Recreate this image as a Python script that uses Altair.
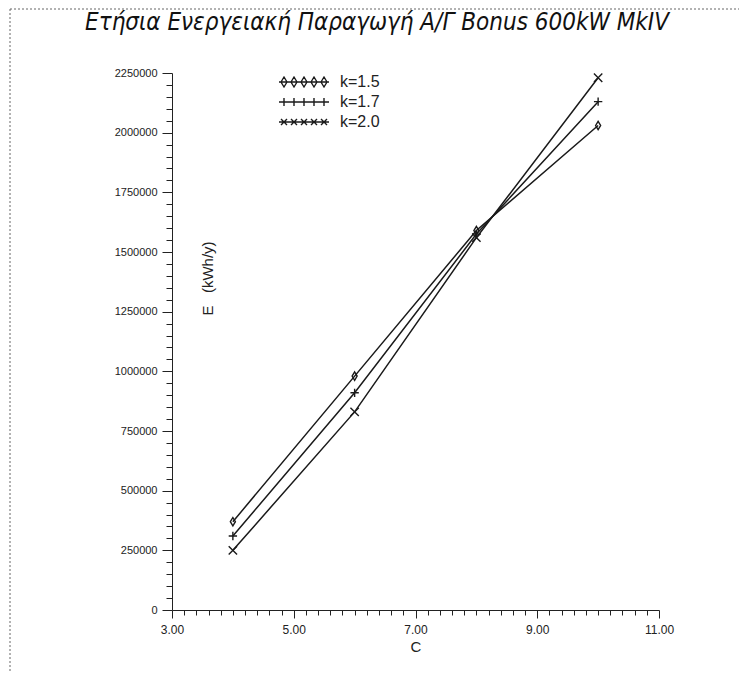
import altair as alt
import pandas as pd

# ---- data ----
C_values = [4, 6, 8, 10]
k_labels = ["k=1.5", "k=1.7", "k=2.0"]
E_k15 = [370000, 980000, 1590000, 2030000]
E_k17 = [310000, 910000, 1575000, 2130000]
E_k20 = [250000, 830000, 1560000, 2230000]

x_tick_values = [3.0, 3.2, 3.4, 3.6, 3.8, 4.0, 4.2, 4.4, 4.6, 4.8,
                 5.0, 5.2, 5.4, 5.6, 5.8, 6.0, 6.2, 6.4, 6.6, 6.8,
                 7.0, 7.2, 7.4, 7.6, 7.8, 8.0, 8.2, 8.4, 8.6, 8.8,
                 9.0, 9.2, 9.4, 9.6, 9.8, 10.0, 10.2, 10.4, 10.6, 10.8, 11.0]
y_tick_values = list(range(0, 2250001, 50000))

title_text = "Ετήσια Ενεργειακή Παραγωγή Α/Γ Bonus 600kW MkIV"

rows = []
for lab, vals in zip(k_labels, [E_k15, E_k17, E_k20]):
    for c, e in zip(C_values, vals):
        rows.append({"C": c, "E": e, "k": lab})
df = pd.DataFrame(rows)

# marker shapes (unit paths)
point_paths = [
    "M-0.6,0L0,-1L0.6,0L0,1Z",
    "M-1,0L1,0M0,-1L0,1",
    "M-1,-1L1,1M-1,1L1,-1",
]

def legend_path(kind):
    p = "M-1,0L1,0"
    for c in [-0.8, -0.4, 0.0, 0.4, 0.8]:
        if kind == 0:
            p += f"M{c-0.12:.2f},0L{c:.2f},-0.2L{c+0.12:.2f},0L{c:.2f},0.2Z"
        elif kind == 1:
            p += f"M{c:.2f},-0.16L{c:.2f},0.16"
        else:
            p += f"M{c-0.12:.2f},-0.12L{c+0.12:.2f},0.12M{c-0.12:.2f},0.12L{c+0.12:.2f},-0.12"
    return p

legend_paths = [legend_path(0), legend_path(1), legend_path(2)]

FONT = "Liberation Sans"

x_enc = alt.X(
    "C:Q",
    scale=alt.Scale(domain=[3, 11], nice=False, zero=False),
    axis=alt.Axis(
        values=x_tick_values,
        labelExpr="(abs(datum.value - round(datum.value)) < 0.01 && round(datum.value) % 2 == 1) ? format(datum.value, '.2f') : ''",
        tickSize={"condition": {"test": "abs(datum.value - round(datum.value)) < 0.01 && round(datum.value) % 2 == 1", "value": 8}, "value": 5},
        title="C",
        titleFontSize=15,
        titleFontWeight="normal",
        titlePadding=4,
        labelFontSize=12,
        labelPadding=6,
        labelFlush=False,
        labelOverlap=False,
    ),
)
y_enc = alt.Y(
    "E:Q",
    scale=alt.Scale(domain=[0, 2250000], nice=False),
    axis=alt.Axis(
        values=y_tick_values,
        labelExpr="datum.value % 250000 == 0 ? format(datum.value, 'd') : ''",
        tickSize={"condition": {"test": "datum.value % 250000 == 0", "value": 10}, "value": 6},
        title="E\u00a0\u00a0\u00a0(kWh/y)",
        titleX=35,
        titleY=205,
        titleAngle=270,
        titleAlign="center",
        titleBaseline="middle",
        titleFontSize=15,
        titleFontWeight="normal",
        labelFontSize=11,
        labelPadding=5,
        labelOverlap=False,
    ),
)

lines = alt.Chart(df).mark_line(color="#1a1a1a", strokeWidth=1.5).encode(
    x=x_enc, y=y_enc, detail="k:N"
)

points = alt.Chart(df).mark_point(filled=False, color="#1a1a1a", strokeWidth=1.4, size=70, opacity=1).encode(
    x=x_enc, y=y_enc,
    shape=alt.Shape("k:N", scale=alt.Scale(domain=k_labels, range=point_paths), legend=None),
)

legend_layer = alt.Chart(df).transform_filter("false").mark_point(
    filled=False, color="#1a1a1a", strokeWidth=1.4, opacity=1
).encode(
    x=x_enc, y=y_enc,
    shape=alt.Shape(
        "k:N",
        scale=alt.Scale(domain=k_labels, range=legend_paths),
        legend=alt.Legend(
            orient="none", legendX=106, legendY=-1, title=None,
            symbolSize=2500, symbolStrokeColor="#1a1a1a", symbolStrokeWidth=1.4,
            symbolFillColor="transparent",
            labelFont=FONT, labelFontSize=16, labelColor="#222", labelOffset=10,
            clipHeight=20, rowPadding=0, padding=0,
        ),
    ),
)

frame_df = pd.DataFrame({"f": [0]})
left_border = alt.Chart(frame_df).mark_rule(color="#666", strokeDash=[2, 2], strokeWidth=1).encode(
    x=alt.value(-162), y=alt.value(-64), y2=alt.value(600)
)
top_border = alt.Chart(frame_df).mark_rule(color="#666", strokeDash=[2, 2], strokeWidth=1).encode(
    x=alt.value(-162), x2=alt.value(570), y=alt.value(-64)
)

chart = alt.layer(left_border, top_border, lines, points, legend_layer).resolve_scale(
    shape="independent"
).properties(
    width=487,
    height=537,
    autosize=alt.AutoSizeParams(type="none"),
    padding={"left": 164, "top": 65, "right": 80, "bottom": 62},
    title=alt.TitleParams(
        text=title_text,
        font="Liberation Sans Narrow, DejaVu Sans Condensed, Liberation Sans",
        fontStyle="italic",
        fontWeight="normal",
        fontSize=24,
        anchor="start",
        frame="group",
        dx=-87,
        offset=-26,
        color="#111",
    ),
).configure_view(stroke=None).configure_axis(
    domainColor="#222", tickColor="#222", labelColor="#222", titleColor="#222",
    labelFont=FONT, titleFont=FONT, grid=False,
)

chart.save("out.html", embed_options={"renderer": "svg", "actions": False})
